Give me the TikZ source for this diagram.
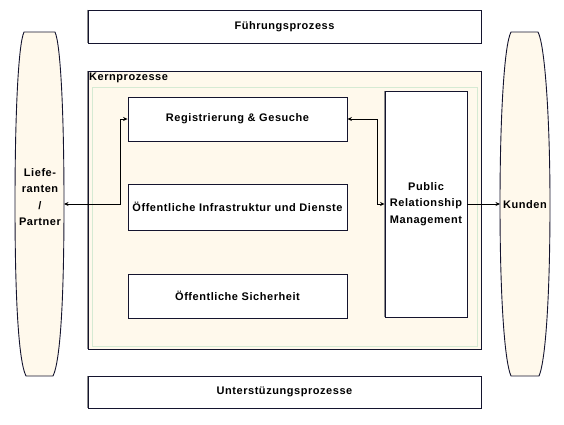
\documentclass[tikz,border=0pt]{standalone}
\usepackage{fontspec}
\setmainfont{Liberation Sans}[LetterSpace=5]
\usetikzlibrary{arrows.meta}
\definecolor{cream}{HTML}{FFF9EC}
\definecolor{edge}{HTML}{14142E}
\definecolor{selgreen}{HTML}{D6EAD3}
\definecolor{shadeedge}{HTML}{8C8C8C}
\newcommand{\txtfont}{\fontsize{11}{16.5}\selectfont\bfseries}
\begin{document}
\begin{tikzpicture}[x=1pt,y=-1pt,
  box/.style={draw=edge, line width=0.9pt, fill=white, inner sep=0pt, font=\txtfont, align=center},
  kernbox/.style={draw=edge, line width=0.9pt, fill=cream, inner sep=0pt},
  side/.style={draw=edge, line width=0.9pt, fill=cream},
  lbl/.style={font=\txtfont, align=center, inner sep=0pt},
  arr/.style={draw=black, line width=0.8pt, {Stealth[length=4.5pt,width=4pt]}-{Stealth[length=4.5pt,width=4pt]}},
  arrone/.style={draw=black, line width=0.8pt, -{Stealth[length=4.5pt,width=4pt]}},
  greyedge/.style={draw=shadeedge, line width=0.9pt}
]
\useasboundingbox (0,0) rectangle (564,424);

% side shapes
\draw[side] (24,32) -- (55,32) .. controls (61,45) and (64,120) .. (64,204)
  .. controls (64,290) and (61,360) .. (53,376) -- (26,376)
  .. controls (18,360) and (15,290) .. (15,204)
  .. controls (15,120) and (18,45) .. (24,32) -- cycle;
\draw[side] (511,32) -- (538,32) .. controls (545,45) and (550,120) .. (550,204)
  .. controls (550,290) and (546,360) .. (539,376) -- (511,376)
  .. controls (504,360) and (500,290) .. (500,204)
  .. controls (500,120) and (504,45) .. (511,32) -- cycle;

% boxes
\node[box, minimum width=393pt, minimum height=33pt] (fuehr) at (284.5,26.5) {Führungsprozess};
\node[kernbox, minimum width=393pt, minimum height=278pt] (kern) at (284.5,210) {};
\draw[selgreen, line width=0.8pt] (92,87) rectangle (477,346);
\node[lbl, anchor=north west] (kernlbl) at (89,73) {Kernprozesse};
\node[box, minimum width=219pt, minimum height=44pt] (reg) at (237.5,119) {Registrierung \& Gesuche};
\node[box, minimum width=219pt, minimum height=46pt] (infra) at (237.5,207) {Öffentliche Infrastruktur und Dienste};
\node[box, minimum width=219pt, minimum height=44pt] (sich) at (237.5,296) {Öffentliche Sicherheit};
\node[box, minimum width=82pt, minimum height=226pt] (prm) at (426,204) {Public\\Relationship\\Management};
\node[box, minimum width=393pt, minimum height=32pt] (unter) at (284.5,392) {Unterstüzungsprozesse};

% shaded left edges
\draw[greyedge] (fuehr.north west) -- (fuehr.south west);
\draw[greyedge] (kern.north west) -- (kern.south west);
\draw[greyedge] (prm.north west) -- (prm.south west);
\draw[greyedge] (unter.north west) -- (unter.south west);

% side labels
\node[lbl] (lief) at (40,197) {Liefe-\\ranten\\/\\Partner};
\node[lbl] (kunden) at (525,205) {Kunden};

% connectors
\coordinate (liefE) at (64,204);
\coordinate (kundW) at (500,204);
\draw[arr] (liefE) -| ([xshift=-7pt]reg.west) -- (reg.west);
\draw[arr] (reg.east) -| ([xshift=-7pt]prm.west) -- (prm.west);
\draw[arrone] (prm.east) -- (kundW);
\end{tikzpicture}
\end{document}
